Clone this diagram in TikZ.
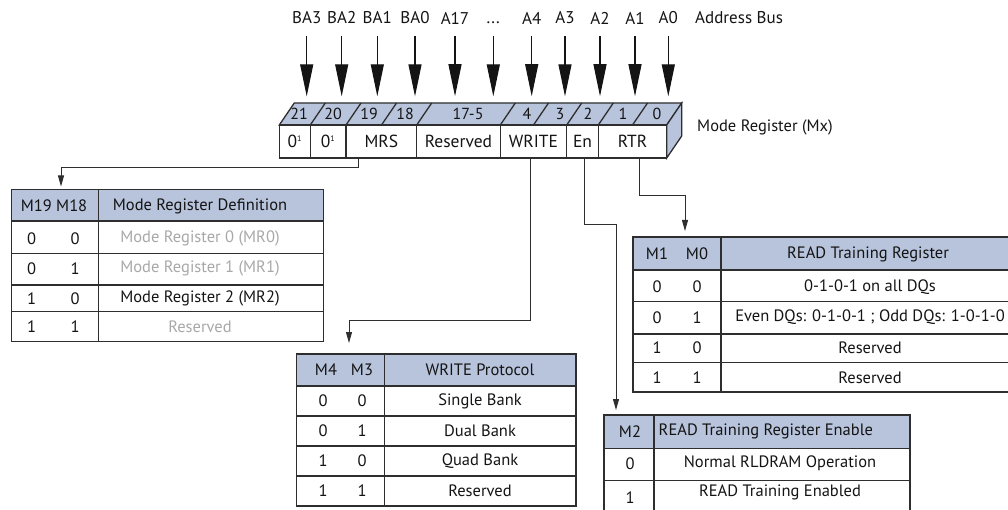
\documentclass[tikz,border=0pt]{standalone}
\usepackage{fontspec}
\setmainfont{PT Sans}
\usetikzlibrary{arrows.meta}
\definecolor{hdr}{HTML}{B8C4DC}
\definecolor{ln}{HTML}{2E2E2E}
\definecolor{gtxt}{HTML}{A8A8A8}
\definecolor{tx}{HTML}{141414}
\begin{document}
\begin{tikzpicture}[x=1pt,y=-1pt,
  txt/.style={inner sep=0pt, font=\fontsize{16.5}{18}\selectfont, text=tx},
  bustxt/.style={txt, font=\fontsize{17}{19}\selectfont},
  numtxt/.style={txt, font=\fontsize{16}{18}\selectfont},
  gtx/.style={txt, text=gtxt},
  bus/.style={-{Triangle[length=32pt,width=13pt]}, line width=1.1pt, draw=tx},
  conn/.style={-{Triangle[length=11pt,width=6pt]}, line width=0.9pt, draw=ln},
  grid/.style={line width=1.3pt, draw=ln},
  cell/.style={draw=ln, line width=1.3pt, fill=white, inner sep=0pt, minimum height=33pt, font=\fontsize{17.5}{19}\selectfont, text=tx}]
\useasboundingbox (0,0) rectangle (1008,510);
\begin{scope}
\clip (0,0) rectangle (1008,510);
% ---------- address bus ----------
\foreach \n/\x/\t in {ba3/306.7/BA3, ba2/341.7/BA2, ba1/377.3/BA1, ba0/415/BA0, a17/455/A17, a4/531.7/A4, a3/565/A3, a2/600/A2, a1/635/A1, a0/668.3/A0}{
  \node[bustxt] (\n) at (\x,18) {\t};
  \draw[bus] ([yshift=-12pt]\n.south) -- ++(0,60);
}
\node[bustxt] (dots) at (493.3,18) {\vphantom{A}...};
\draw[bus] ([yshift=-12pt]dots.south) -- ++(0,60);
\node[bustxt, anchor=west] (abus) at (695,18) {Address Bus};
% ---------- register ----------
\draw[grid, fill=hdr] (279.3,125) -- (294.3,103) -- (681.7,103) -- (666.7,125) -- cycle;
\draw[grid, fill=hdr] (666.7,125) -- (681.7,103) -- (681.7,136) -- (666.7,158) -- cycle;
\foreach \x in {310.3, 346, 381.5, 416.7, 500.3, 533.5, 566.7, 598.3, 632.5}
  \draw[grid] (\x,125) -- ++(15,-22);
\foreach \n/\x/\t in {b21/299/21, b20/333/20, b19/369/19, b18/405/18, b175/468/17-5, b4/527/4, b3/560/3, b2/588/2, b1/623/1, b0/657/0}
  \node[numtxt] (\n) at (\x,114) {\t};
\node[cell, minimum width=31pt]   (c21) at (294.8,141.5) {0\textsuperscript{\fontsize{8}{9}\selectfont 1}};
\node[cell, minimum width=35.7pt] (c20) at (328.15,141.5) {0\textsuperscript{\fontsize{8}{9}\selectfont 1}};
\node[cell, minimum width=70.7pt] (mrs) at (381.35,141.5) {MRS};
\node[cell, minimum width=83.6pt] (res) at (458.5,141.5) {Reserved};
\node[cell, minimum width=66.4pt] (wr)  at (533.5,141.5) {WRITE};
\node[cell, minimum width=31.6pt] (en)  at (582.5,141.5) {En};
\node[cell, minimum width=68.4pt] (rtr) at (632.5,141.5) {RTR};
\node[txt, anchor=west] (mreg) at (697,127) {Mode Register (Mx)};
% ---------- table 1: mode register definition ----------
\fill[hdr] (11.7,189.3) rectangle (323.3,221);
\draw[grid] (11.7,189.3) rectangle (323.3,341.7);
\foreach \y in {221,253.3,285,311.7} \draw[grid] (11.7,\y) -- (323.3,\y);
\draw[grid] (98.3,189.3) -- (98.3,341.7);
\node[txt] (t1h1) at (54,206) {M19 M18};
\node[txt] (t1h2) at (200,206) {Mode Register Definition};
\foreach \i/\y/\a/\b in {1/238.5/0/0, 2/268.3/0/1, 3/298.3/1/0, 4/326.5/1/1}{
  \node[txt] (t1a\i) at (31.7,\y) {\a};
  \node[txt] (t1b\i) at (75,\y) {\b};
}
\node[gtx] (t1c1) at (200,238.5) {Mode Register 0 (MR0)};
\node[gtx] (t1c2) at (200,268.3) {Mode Register 1 (MR1)};
\node[txt] (t1c3) at (200,298.3) {Mode Register 2 (MR2)};
\node[gtx] (t1c4) at (200,326.5) {Reserved};
\coordinate (t1bend) at (61,167.3);
\coordinate (t1tip) at (61,186.5);
\draw[conn] ([xshift=-23.35pt]mrs.south) |- (t1bend) -- (t1tip);
% ---------- table 2: write protocol ----------
\fill[hdr] (296.7,354) rectangle (576,386);
\draw[grid] (296.7,354) rectangle (576,506);
\foreach \y in {386,416,446,476} \draw[grid] (296.7,\y) -- (576,\y);
\draw[grid] (384.3,354) -- (384.3,506);
\node[txt] (t2h1) at (326,370) {M4};
\node[txt] (t2h1b) at (362,370) {M3};
\node[txt] (t2h2) at (480,370) {WRITE Protocol};
\foreach \i/\y/\a/\b/\c in {1/401/0/0/Single Bank, 2/431/0/1/Dual Bank, 3/461/1/0/Quad Bank, 4/491/1/1/Reserved}{
  \node[txt] (t2a\i) at (323,\y) {\a};
  \node[txt] (t2b\i) at (362,\y) {\b};
  \node[txt] (t2c\i) at (480,\y) {\c};
}
\coordinate (t2bend) at (349,320.7);
\coordinate (t2tip) at (349,343);
\draw[conn] ([xshift=-3.5pt]wr.south) |- (t2bend) -- (t2tip);
% ---------- table 3: read training register ----------
\fill[hdr] (633,237) rectangle (1015,270);
\draw[grid] (633,237) rectangle (1015,392);
\foreach \y in {270,301.7,334,362.7} \draw[grid] (633,\y) -- (1015,\y);
\draw[grid] (721,237) -- (721,392);
\node[txt] (t3h1) at (657,254) {M1};
\node[txt] (t3h1b) at (697,254) {M0};
\node[txt] (t3h2) at (868,254) {READ Training Register};
\foreach \i/\y/\a/\b/\c in {1/287/0/0/0-1-0-1 on all DQs, 2/317.5/0/1/Even DQs: 0-1-0-1 ; Odd DQs: 1-0-1-0, 3/348/1/0/Reserved, 4/377.5/1/1/Reserved}{
  \node[txt] (t3a\i) at (657,\y) {\a};
  \node[txt] (t3b\i) at (697,\y) {\b};
  \node[txt] (t3c\i) at (870,\y) {\c};
}
\coordinate (t3bend) at (685,195.7);
\coordinate (t3tip) at (685,231);
\draw[conn] ([xshift=6.5pt]rtr.south) |- (t3bend) -- (t3tip);
% ---------- table 4: read training register enable ----------
\fill[hdr] (604,415) rectangle (910,448.3);
\draw[grid] (604,415) rectangle (910,516);
\foreach \y in {448.3,480.5} \draw[grid] (604,\y) -- (910,\y);
\draw[grid] (654,415) -- (654,516);
\node[txt] (t4h1) at (630,431.5) {M2};
\node[txt, anchor=west] (t4h2) at (658.5,431.5) {READ Training Register Enable};
\node[txt] (t4a1) at (630,463.5) {0};
\node[txt] (t4c1) at (780,463.5) {Normal RLDRAM Operation};
\node[txt] (t4a2) at (630,498) {1};
\node[txt] (t4c2) at (780,492) {READ Training Enabled};
\coordinate (t4bend) at (616,224);
\coordinate (t4tip) at (616,410);
\draw[conn] ([xshift=1.5pt]en.south) |- (t4bend) -- (t4tip);
\end{scope}
\end{tikzpicture}
\end{document}
